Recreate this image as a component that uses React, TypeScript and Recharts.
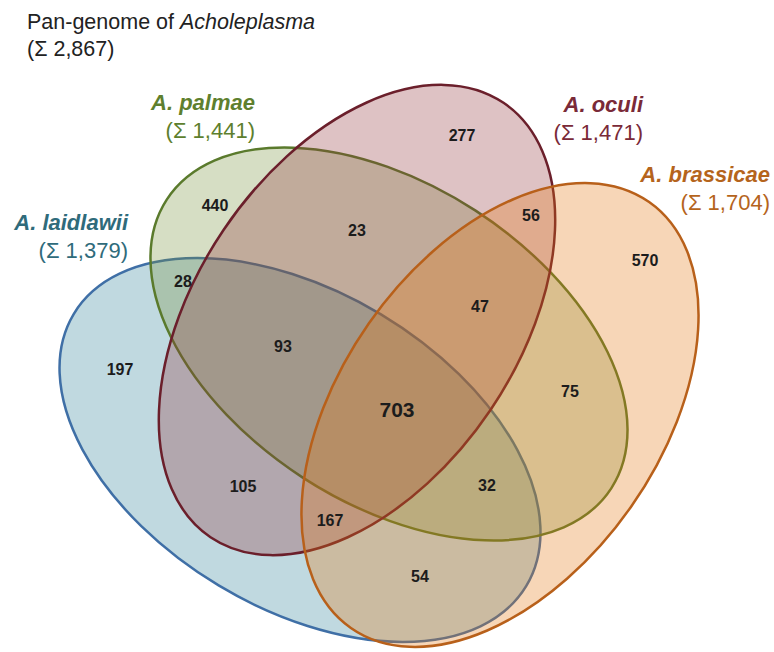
import * as React from "react";
import { Scatter, ScatterChart, XAxis, YAxis } from "recharts";

const W = 774;
const H = 652;

// the four sets, drawn bottom to top
const setNames = ["A. laidlawii", "A. palmae", "A. oculi", "A. brassicae"];
const setTotals = ["(Σ 1,379)", "(Σ 1,441)", "(Σ 1,471)", "(Σ 1,704)"];
const ellipseX = [300, 389, 357, 500];
const ellipseY = [450, 344, 320, 415];
const ellipseRx = [264, 265, 262, 260];
const ellipseRy = [158, 159, 161, 160];
const ellipseAngle = [31, 33, -56, -55];

// where each set label sits (right aligned)
const nameX = [128, 255, 643, 770];
const nameY = [230, 110, 112, 182];

// region counts
const regionCounts = [440, 277, 23, 56, 570, 28, 197, 93, 47, 703, 75, 105, 32, 167, 54];
const regionX = [215, 462, 357, 531, 645, 183, 120, 283, 480, 397, 570, 243, 487, 330, 420];
const regionY = [205, 135, 230, 215, 260, 281, 369, 346, 306, 409, 391, 486, 485, 520, 576];

const titleText = "Pan-genome of ";
const titleItalic = "Acholeplasma";
const titleTotal = "(Σ 2,867)";

const FILLS = ["rgb(48,128,152)", "rgb(118,145,58)", "rgb(145,52,58)", "rgb(228,118,18)"];
const STROKES = ["#3f6fa6", "#5a7a2c", "#6b1f2b", "#b8601a"];
const LABEL_COLORS = ["#2f6b7b", "#5e7f2e", "#7a2a38", "#b5641c"];
const FONT = "'Liberation Sans', Arial, sans-serif";

const sx = W / W; // px per data unit (domain equals plot size)

function EllipseShape(props: any) {
  const { cx, cy, payload } = props;
  const i = payload.idx;
  return (
    <ellipse
      cx={cx}
      cy={cy}
      rx={payload.rx * sx}
      ry={payload.ry * sx}
      transform={`rotate(${payload.angle} ${cx} ${cy})`}
      fill={FILLS[i]}
      fillOpacity={0.3}
      stroke={STROKES[i]}
      strokeWidth={2.5}
    />
  );
}

function CountShape(props: any) {
  const { cx, cy, payload } = props;
  const big = payload.value === 703;
  return (
    <text
      x={cx}
      y={cy}
      textAnchor="middle"
      dominantBaseline="central"
      fontFamily={FONT}
      fontWeight="bold"
      fontSize={big ? 21 : 16}
      fill="#1c1c1c"
    >
      {payload.value}
    </text>
  );
}

function NameShape(props: any) {
  const { cx, cy, payload } = props;
  const i = payload.idx;
  return (
    <g fontFamily={FONT} fontSize={22} fill={LABEL_COLORS[i]} textAnchor="end">
      <text x={cx} y={cy} fontWeight="bold" fontStyle="italic">
        {setNames[i]}
      </text>
      <text x={cx} y={cy + 28}>
        {setTotals[i]}
      </text>
    </g>
  );
}

function TitleShape(props: any) {
  const { cx, cy } = props;
  return (
    <g fontFamily={FONT} fontSize={21.5} fill="#222">
      <text x={cx} y={cy}>
        {titleText}
        <tspan fontStyle="italic">{titleItalic}</tspan>
      </text>
      <text x={cx} y={cy + 27}>
        {titleTotal}
      </text>
    </g>
  );
}

export default function App() {
  const ellipses = setNames.map((_, i) => ({
    idx: i,
    x: ellipseX[i],
    y: ellipseY[i],
    rx: ellipseRx[i],
    ry: ellipseRy[i],
    angle: ellipseAngle[i]
  }));
  const names = setNames.map((_, i) => ({ idx: i, x: nameX[i], y: nameY[i] }));
  const counts = regionCounts.map((v, i) => ({ value: v, x: regionX[i], y: regionY[i] }));
  const title = [{ x: 27, y: 29 }];

  return (
    <div style={{ position: "absolute", left: 0, top: 0, background: "#fff" }}>
      <ScatterChart width={W} height={H} margin={{ top: 0, right: 0, bottom: 0, left: 0 }}>
        <XAxis type="number" dataKey="x" domain={[0, W]} hide />
        <YAxis type="number" dataKey="y" domain={[0, H]} reversed hide />
        {ellipses.map((e) => (
          <Scatter key={e.idx} data={[e]} shape={EllipseShape} isAnimationActive={false} />
        ))}
        <Scatter data={counts} shape={CountShape} isAnimationActive={false} />
        <Scatter data={names} shape={NameShape} isAnimationActive={false} />
        <Scatter data={title} shape={TitleShape} isAnimationActive={false} />
      </ScatterChart>
    </div>
  );
}
